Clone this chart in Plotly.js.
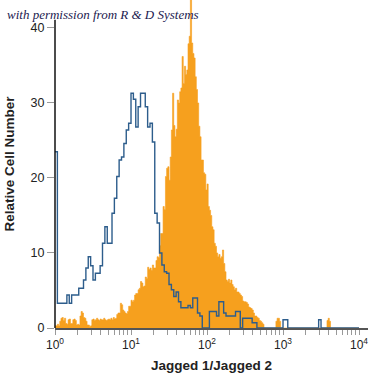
<!DOCTYPE html>
<html>
<head>
<meta charset="utf-8">
<script src="https://cdn.plot.ly/plotly-3.0.1.min.js"></script>
<style>html,body{margin:0;padding:0;background:#fff;}#chart{width:375px;height:375px;}</style>
</head>
<body>
<div id="chart"></div>
<script>
// Orange histogram: Jagged 1/Jagged 2 stained, 256 channels over 4 decades (1/64 decade each)
var orangeCounts = [
  0.3, 0.3, 0.5, 0.3, 0.9, 1.3, 1.4, 1.0, 1.3, 0.6, 0.5, 1.1, 1.2, 0.6, 0.6, 1.1,
  1.2, 1.0, 0.4, 0.5, 0.4, 1.6, 2.2, 2.0, 1.4, 1.3, 0.9, 0.4, 0.4, 0.2, 0.3, 1.1,
  1.2, 1.0, 1.1, 1.3, 1.1, 1.0, 1.2, 1.1, 1.1, 1.3, 1.1, 1.0, 1.1, 1.2, 1.1, 1.3,
  1.1, 1.4, 1.2, 1.3, 1.8, 2.0, 2.0, 3.3, 3.1, 2.4, 2.2, 2.0, 1.9, 2.2, 2.9, 2.9,
  3.7, 3.5, 3.7, 4.4, 4.6, 4.6, 5.1, 5.3, 6.2, 6.0, 5.5, 5.6, 6.8, 6.6, 8.1, 7.8,
  8.0, 7.7, 8.4, 8.0, 8.0, 9.0, 9.5, 9.4, 11.0, 12.6, 12.6, 16.2, 15.8, 20.2, 21.3, 21.5,
  19.7, 22.8, 26.4, 31.3, 27.0, 25.5, 26.5, 30.4, 30.0, 31.5, 32.0, 36.2, 32.6, 34.9, 33.8, 34.4,
  37.9, 38.9, 44.0, 38.0, 36.6, 36.0, 33.5, 31.8, 30.0, 26.9, 25.5, 22.4, 22.4, 20.7, 20.5, 18.4,
  19.2, 16.2, 15.7, 15.0, 13.5, 13.1, 11.3, 10.9, 10.0, 9.5, 9.8, 9.3, 9.5, 10.4, 8.6, 7.5,
  6.4, 6.2, 6.5, 6.0, 6.4, 5.8, 5.5, 5.1, 5.3, 4.8, 4.8, 4.6, 4.4, 4.2, 3.6, 3.5,
  3.5, 3.4, 3.2, 2.8, 2.7, 2.6, 2.4, 2.0, 1.6, 1.6, 1.4, 1.3, 1.0, 0.9, 0.7, 0.5,
  0, 0, 0, 0, 0, 0, 0, 0, 0, 0, 0.9, 1.3, 1.3, 0.9, 0, 0,
  0, 0, 0, 0, 0, 0, 0, 0, 0, 0, 0, 0, 0, 0, 0, 0,
  0, 0, 0, 0, 0, 0, 0, 0, 0, 0, 0, 0, 0, 0, 0, 0,
  0, 0, 0, 0, 0, 1.0, 1.3, 0.9, 0, 0, 0, 0, 0, 0, 0, 0,
  0, 0, 0, 0, 0, 0, 0, 0, 0, 0, 0, 0, 0, 0, 0, 0
];
var orangeBinsPerDecade = 64;

// Blue histogram: control, 128 channels over 4 decades (1/32 decade each)
var blueCounts = [
  23.5, 3.3, 3.3, 3.3, 3.3, 4.4, 3.3, 4.4, 4.4, 4.4, 5.3, 5.3, 6.4, 8.0, 9.5, 8.3,
  6.4, 7.3, 7.3, 8.3, 11.3, 13.5, 11.3, 11.3, 15.3, 17.3, 20.2, 22.4, 22.8, 24.6, 26.4, 27.3,
  31.3, 30.5, 26.8, 29.5, 31.3, 31.3, 29.5, 26.8, 27.3, 24.8, 15.3, 14.0, 10.0, 8.4, 7.5, 7.3,
  5.8, 5.1, 4.2, 4.8, 3.5, 2.7, 2.7, 2.7, 3.0, 2.7, 4.0, 4.0, 2.0, 1.6, 0, 0,
  0, 2.2, 2.2, 2.2, 1.6, 3.5, 3.5, 2.0, 1.6, 1.6, 1.6, 1.6, 2.2, 2.2, 0, 1.3,
  1.3, 1.3, 1.3, 0.7, 0.7, 0, 0, 0, 0, 0, 0, 0, 0, 0, 0, 0,
  1.1, 1.1, 0, 0, 0, 0, 0, 0, 0, 0, 0, 0, 0, 0, 0, 1.1,
  0, 0, 0, 0, 0, 0, 0, 0, 0, 0, 0, 0, 0, 0, 0, 0
];
var blueBinsPerDecade = 32;

var xTickVals = [1, 10, 100, 1000, 10000];
var xTickText = ['10<sup>0</sup>', '10<sup>1</sup>', '10<sup>2</sup>', '10<sup>3</sup>', '10<sup>4</sup>'];
var yTickVals = [0, 10, 20, 30, 40];
var xTitle = 'Jagged 1/Jagged 2';
var yTitle = 'Relative Cell Number';
var credit = 'with permission from R &amp; D Systems';

function stepXY(counts, perDecade) {
  var xs = [], ys = [];
  for (var i = 0; i < counts.length; i++) {
    xs.push(Math.pow(10, i / perDecade));
    ys.push(counts[i]);
  }
  xs.push(Math.pow(10, counts.length / perDecade));
  ys.push(counts[counts.length - 1]);
  return {x: xs, y: ys};
}
var o = stepXY(orangeCounts, orangeBinsPerDecade);
var b = stepXY(blueCounts, blueBinsPerDecade);

var minorVals = [];
[1, 10, 100, 1000].forEach(function (d) { for (var k = 2; k <= 9; k++) minorVals.push(d * k); });

var FONT = 'Liberation Sans, Arial, sans-serif';

var traces = [
  {x: o.x, y: o.y, type: 'scatter', mode: 'lines', line: {shape: 'hv', color: '#f6a01e', width: 0.6},
   fill: 'tozeroy', fillcolor: '#f6a01e', hoverinfo: 'skip'},
  {x: b.x, y: b.y, type: 'scatter', mode: 'lines', line: {shape: 'hv', color: '#2d5d8c', width: 1.4},
   hoverinfo: 'skip'}
];

var layout = {
  width: 375, height: 375,
  margin: {l: 55, r: 7, t: 0, b: 47},
  paper_bgcolor: '#ffffff', plot_bgcolor: '#ffffff',
  showlegend: false,
  font: {family: FONT, color: '#222', size: 12},
  xaxis: {
    type: 'log', range: [0, 4.118],
    tickmode: 'array', tickvals: xTickVals, ticktext: xTickText,
    ticks: 'outside', ticklen: 5, tickcolor: '#999', tickwidth: 1,
    minor: {tickmode: 'array', tickvals: minorVals, ticks: 'outside', ticklen: 5, tickcolor: '#999', tickwidth: 1, showgrid: false},
    showgrid: false, zeroline: false,
    showline: true, linecolor: '#555', linewidth: 1.5,
    tickfont: {family: FONT, size: 12, color: '#222'},
    title: {text: xTitle, font: {family: FONT, size: 13.5, color: '#222', weight: 'bold'}, standoff: 9},
    automargin: false
  },
  yaxis: {
    range: [0, 43.73],
    tickmode: 'array', tickvals: yTickVals,
    ticks: 'outside', ticklen: 7, tickcolor: '#999', tickwidth: 1,
    showgrid: false, zeroline: false, showline: false,
    tickfont: {family: FONT, size: 12.5, color: '#222'},
    title: {text: yTitle, font: {family: FONT, size: 13.5, color: '#222', weight: 'bold'}, standoff: 12},
    automargin: false
  },
  shapes: [
    {type: 'line', xref: 'paper', yref: 'y', x0: 0, x1: 0, y0: 0, y1: 41.1,
     line: {color: '#111', width: 1.5}}
  ],
  annotations: [
    {text: credit, xref: 'paper', yref: 'paper', x: -0.16, y: 0.956, xanchor: 'left', yanchor: 'middle',
     showarrow: false, font: {family: 'Liberation Serif, DejaVu Serif, serif', size: 13, color: '#1c214f', style: 'italic'}}
  ]
};

Plotly.newPlot('chart', traces, layout, {staticPlot: true, displayModeBar: false});
</script>
</body>
</html>
